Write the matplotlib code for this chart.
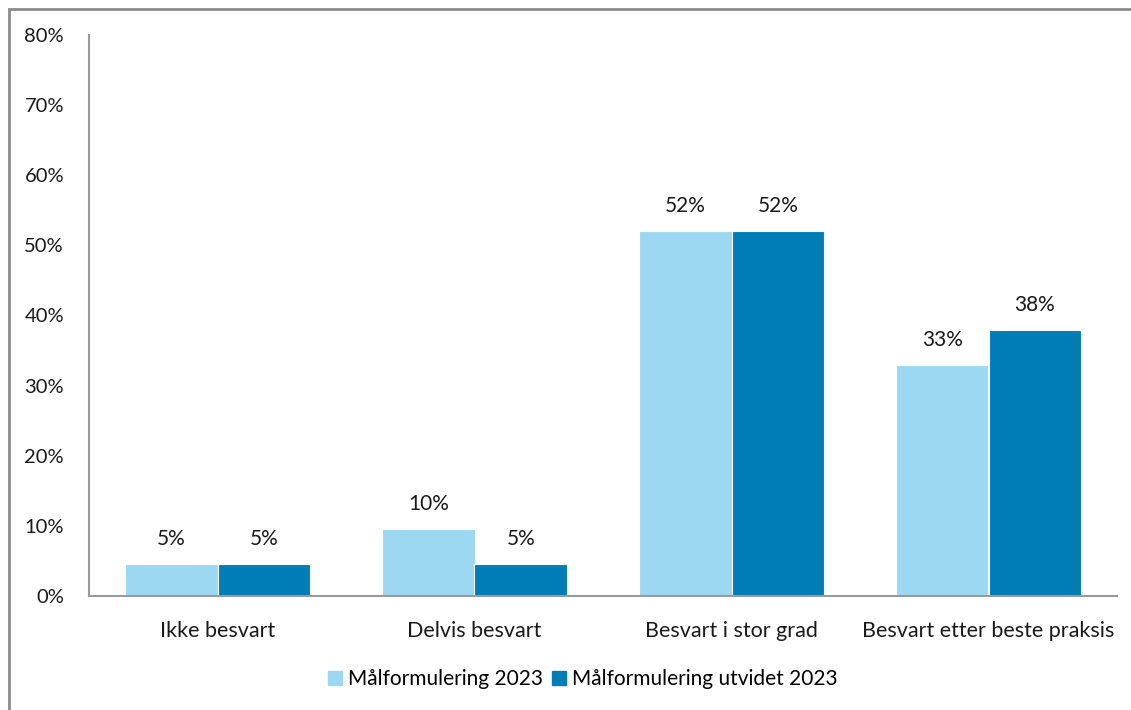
import matplotlib
matplotlib.use("Agg")
import matplotlib.pyplot as plt
from matplotlib.patches import Rectangle
from matplotlib.lines import Line2D
import numpy as np

plt.rcParams['font.family'] = ['Lato', 'DejaVu Sans']

categories = ["Ikke besvart", "Delvis besvart", "Besvart i stor grad", "Besvart etter beste praksis"]
series_names = ["Målformulering 2023", "Målformulering utvidet 2023"]
values_2023 = [4.6, 9.5, 52, 33]
values_utvidet = [4.6, 4.6, 52, 38]
y_ticks = [0, 10, 20, 30, 40, 50, 60, 70, 80]

colors = ["#9dd8f2", "#007cb6"]
W, H = 1131, 710
fig = plt.figure(figsize=(W / 100, H / 100), dpi=100)

# axes placement in pixels
left, right, top, bottom = 89, 1117, 35, 596
ax = fig.add_axes([left / W, 1 - bottom / H, (right - left) / W, (bottom - top) / H])

x = np.arange(len(categories))
bw = 0.36
for i, (vals, name) in enumerate(zip([values_2023, values_utvidet], series_names)):
    pos = x + (i - 0.5) * bw
    ax.bar(pos, vals, width=bw, color=colors[i], edgecolor="white", linewidth=0.8, label=name)
    for p, v in zip(pos, vals):
        ax.annotate(f"{v:.0f}%", (p, v), xytext=(0, 15), textcoords="offset pixels",
                    ha="center", va="bottom", fontsize=15, color="#1a1a1a")

ax.set_xlim(-0.5, len(categories) - 0.5)
ax.set_ylim(0, 80)
ax.set_yticks(y_ticks)
ax.set_yticklabels([f"{t}%" for t in y_ticks])
ax.set_xticks(x)
ax.set_xticklabels(categories)
ax.tick_params(axis="both", length=0, colors="#1a1a1a")
ax.tick_params(axis="y", pad=18, labelsize=14.5)
ax.tick_params(axis="x", pad=18, labelsize=15.5)
for s in ["top", "right"]:
    ax.spines[s].set_visible(False)
for s in ["left", "bottom"]:
    ax.spines[s].set_color("#9a9a9a")
    ax.spines[s].set_linewidth(1.5)

handles = [Line2D([], [], marker="s", linestyle="none", markersize=10,
                  markerfacecolor=c, markeredgecolor=c) for c in colors]
fig.legend(handles, series_names, loc="center", bbox_to_anchor=(581 / W, 1 - 679 / H),
           ncol=2, frameon=False, fontsize=15, handletextpad=0.1, columnspacing=0.3,
           handlelength=1.0)

# outer frame along the top and left edges
fig.add_artist(Rectangle((9 / W, -0.1), 1.2, 1 - 9 / H + 0.1, transform=fig.transFigure,
                         fill=False, edgecolor="#8c8c8c", linewidth=2))

fig.savefig("out.png", dpi=100)
